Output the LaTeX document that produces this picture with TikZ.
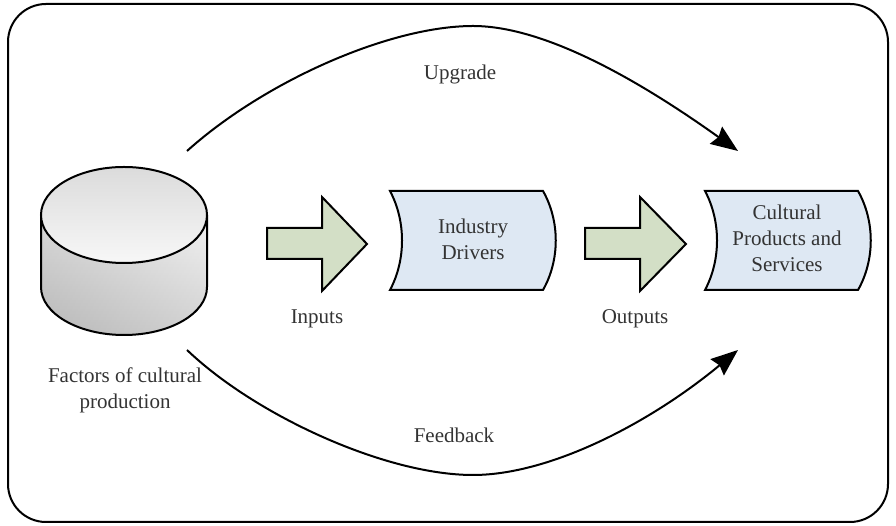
\documentclass[tikz,border=0pt]{standalone}
\usepackage{fontspec}
\setmainfont{Liberation Serif}
\usetikzlibrary{arrows.meta}
\definecolor{arrowgreen}{HTML}{D3DFC6}
\definecolor{boxblue}{HTML}{DEE8F3}
\definecolor{labelgray}{HTML}{333333}
\tikzset{
  flowarrow/.style={draw=black,line width=2pt,fill=arrowgreen,line join=miter},
  flowbox/.style={draw=black,line width=2pt,fill=boxblue},
  labeltext/.style={text=labelgray,font=\fontsize{21}{26}\selectfont,align=center,inner sep=0pt},
  linkcurve/.style={line width=2pt,-{Stealth[length=27pt,width=21pt,inset=3pt]}}
}
\begin{document}
\begin{tikzpicture}[x=1pt,y=1pt]

      \useasboundingbox (0,0) rectangle (896,526);

      % The outer frame.
      \draw[line width=2pt,rounded corners=38pt] (8,4) rectangle (888,522);

      % The side of the cylinder.
      \path[top color=black!7,bottom color=black!24] (41,311) -- (41,239)
      arc [start angle=180,end angle=360,x radius=83,y radius=48] -- (207,311) -- cycle;
      \path[left color=black!40,right color=white,fill opacity=0.25] (41,311) -- (41,239)
      arc [start angle=180,end angle=360,x radius=83,y radius=48] -- (207,311) -- cycle;
      \draw[line width=2pt] (41,311) -- (41,239)
      arc [start angle=180,end angle=360,x radius=83,y radius=48] -- (207,311);

      % The top of the cylinder.
      \draw[line width=2pt,top color=black!14,bottom color=black!3] (124,311)
      ellipse [x radius=83,y radius=48];

      % The input and output arrows.
      \draw[flowarrow] (267,298) -- (322,298) -- (322,329) -- (367,282)
      -- (322,235) -- (322,267) -- (267,267) -- cycle;
      \draw[flowarrow] (585,298) -- (640,298) -- (640,329) -- (686,282)
      -- (640,235) -- (640,267) -- (585,267) -- cycle;

      % The two blue boxes.
      \draw[flowbox] (390,335) .. controls (406,305) and (406,266) .. (390,236)
      -- (543,236) .. controls (560,266) and (560,305) .. (543,335) -- cycle;
      \draw[flowbox] (705,335) .. controls (721,305) and (721,266) .. (705,236)
      -- (858,236) .. controls (875,266) and (875,305) .. (858,335) -- cycle;

      % Free ends and turning points of the two long curves.
      \coordinate (upgradestart) at (187,375);
      \coordinate (upgradetop) at (473,500);
      \coordinate (upgradeend) at (738,375);
      \coordinate (feedbackstart) at (187,176);
      \coordinate (feedbackbottom) at (473,51);
      \coordinate (feedbackend) at (738,176);

      \draw[linkcurve] (upgradestart) .. controls (265,445) and (390,500) .. (upgradetop)
      .. controls (545,500) and (640,445) .. (upgradeend);
      \draw[linkcurve] (feedbackstart) .. controls (255,111) and (385,51) .. (feedbackbottom)
      .. controls (550,51) and (650,103) .. (feedbackend);

      % The labels.
      \node[labeltext] (upgrade) at (460,452) {Upgrade};
      \node[labeltext] (feedback) at (454,91) {Feedback};
      \node[labeltext] (inputs) at (317,207) {Inputs};
      \node[labeltext] (outputs) at (635,207) {Outputs};
      \node[labeltext] (factors) at (125,136) {Factors of cultural\\production};
      \node[labeltext] (drivers) at (473,287) {Industry\\Drivers};
      \node[labeltext] (products) at (787,288) {Cultural\\Products and\\Services};
\end{tikzpicture}
\end{document}
